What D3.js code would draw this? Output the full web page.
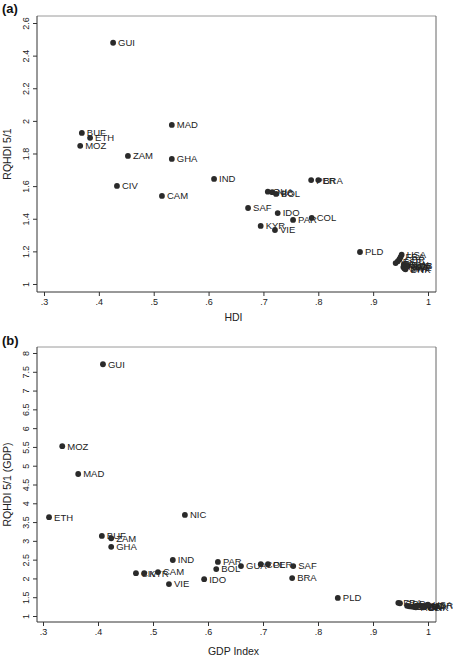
<!DOCTYPE html>
<html><head><meta charset="utf-8">
<script src="https://cdn.jsdelivr.net/npm/d3@7"></script>
<style>
html,body{margin:0;padding:0;background:#fff;}
svg{display:block;font-family:"Liberation Sans",Arial,Helvetica,sans-serif;}
</style></head>
<body>
<svg id="chart" width="453" height="657"></svg>
<script>
// Panel (a): HDI vs RQHDI 5/1
const labelsA = ["GUI","MAD","BUF","ETH","MOZ","ZAM","GHA","CIV","CAM","IND","PER","BRA","GUA","NIC","BOL","SAF","IDO","PAR","COL","KYR","VIE","PLD",
  "USA","FRA","GBR","ESP","ITA","CAN","NOR","SWE","JPN","AUS","SWI","NLD","DNK"];
const hdiA = [0.426,0.533,0.369,0.384,0.366,0.453,0.533,0.433,0.515,0.610,0.787,0.800,0.708,0.716,0.723,0.672,0.726,0.754,0.788,0.695,0.721,0.876,
  0.952,0.950,0.948,0.945,0.941,0.956,0.960,0.958,0.962,0.963,0.957,0.955,0.959];
const rqA = [2.479,1.975,1.926,1.896,1.847,1.785,1.767,1.601,1.540,1.644,1.637,1.637,1.566,1.563,1.552,1.466,1.435,1.393,1.405,1.356,1.331,1.196,
  1.180,1.165,1.152,1.140,1.128,1.120,1.112,1.100,1.108,1.113,1.095,1.104,1.090];

// Panel (b): GDP Index vs RQHDI 5/1 (GDP)
const labelsB = ["GUI","MOZ","MAD","ETH","NIC","BUF","ZAM","GHA","IND","CIV","KYR","CAM","VIE","IDO","PAR","BOL","GUA","COL","PER","SAF","BRA","PLD",
  "FRA","GBR","ITA","ESP","SWE","JPN","CAN","AUS","NLD","SWI","DNK","NOR","USA"];
const gdpB = [0.409,0.335,0.364,0.311,0.558,0.407,0.424,0.424,0.536,0.469,0.484,0.509,0.529,0.593,0.618,0.615,0.660,0.696,0.709,0.755,0.753,0.836,
  0.946,0.949,0.962,0.966,0.970,0.975,0.980,0.978,0.985,0.990,0.992,0.998,1.000];
const rqB = [7.70,5.52,4.78,3.63,3.69,3.13,3.07,2.84,2.49,2.14,2.14,2.17,1.85,1.98,2.44,2.25,2.33,2.38,2.38,2.33,2.01,1.48,
  1.35,1.34,1.27,1.26,1.25,1.24,1.27,1.23,1.28,1.26,1.23,1.29,1.30];

const xTicksA = [0.3,0.4,0.5,0.6,0.7,0.8,0.9,1];
const xTickLabelsA = [".3",".4",".5",".6",".7",".8",".9","1"];
const yTicksA = [1,1.2,1.4,1.6,1.8,2,2.2,2.4,2.6];
const yTickLabelsA = ["1","1.2","1.4","1.6","1.8","2","2.2","2.4","2.6"];
const xTicksB = [0.3,0.4,0.5,0.6,0.7,0.8,0.9,1];
const xTickLabelsB = [".3",".4",".5",".6",".7",".8",".9","1"];
const yTicksB = [1,1.5,2,2.5,3,3.5,4,4.5,5,5.5,6,6.5,7,7.5,8];
const yTickLabelsB = ["1","1.5","2","2.5","3","3.5","4","4.5","5","5.5","6","6.5","7","7.5","8"];

const svg = d3.select("#chart");
const dotColor = "#2a2a2a";

function panel(opts) {
  const {left, right, top, bottom, xDom, yDom, xs, ys, labs, xT, xTL, yT, yTL, xTitle, yTitle, tag, tagY, xTitleY} = opts;
  const x = d3.scaleLinear().domain(xDom).range([left, right]);
  const y = d3.scaleLinear().domain(yDom).range([bottom, top]);
  const g = svg.append("g");

  // frame: top and right
  g.append("line").attr("x1", left).attr("x2", right).attr("y1", top).attr("y2", top)
    .attr("stroke", "#9a9a9a").attr("stroke-width", 1);
  g.append("line").attr("x1", right).attr("x2", right).attr("y1", top).attr("y2", bottom)
    .attr("stroke", "#666").attr("stroke-width", 1);

  // x axis
  const xa = g.append("g").attr("transform", `translate(0,${bottom})`)
    .call(d3.axisBottom(x).tickValues(xT).tickFormat((d, i) => xTL[i]).tickSize(4).tickPadding(3));
  xa.select(".domain").remove();
  xa.selectAll(".tick line").attr("stroke", "#333");
  xa.selectAll(".tick text").attr("font-size", 9).attr("fill", "#222")
    .attr("font-family", "Liberation Sans, Arial, sans-serif");
  g.append("line").attr("x1", left).attr("x2", right).attr("y1", bottom).attr("y2", bottom)
    .attr("stroke", "#333").attr("stroke-width", 1);

  // y axis
  const ya = g.append("g").attr("transform", `translate(${left},0)`)
    .call(d3.axisLeft(y).tickValues(yT).tickFormat((d, i) => yTL[i]).tickSize(4));
  ya.select(".domain").remove();
  ya.selectAll(".tick line").attr("stroke", "#333");
  ya.selectAll(".tick text").attr("font-size", 9).attr("fill", "#222")
    .attr("font-family", "Liberation Sans, Arial, sans-serif")
    .attr("transform", "rotate(-90)").attr("x", 0).attr("y", -8).attr("dy", 0)
    .attr("text-anchor", "middle");
  g.append("line").attr("x1", left).attr("x2", left).attr("y1", top).attr("y2", bottom)
    .attr("stroke", "#333").attr("stroke-width", 1);

  // titles
  g.append("text").attr("x", (left + right) / 2 - 3).attr("y", xTitleY)
    .attr("text-anchor", "middle").attr("font-size", 10.5).attr("fill", "#222").text(xTitle);
  g.append("text").attr("transform", `translate(11,${(top + bottom) / 2}) rotate(-90)`)
    .attr("text-anchor", "middle").attr("font-size", 10.5).attr("fill", "#222").text(yTitle);
  g.append("text").attr("x", 2).attr("y", tagY).attr("font-size", 13).attr("font-weight", "bold")
    .attr("fill", "#111").text(tag);

  // points with labels
  const pts = xs.map((v, i) => ({x: v, y: ys[i], lab: labs[i]}));
  const pg = g.selectAll("g.pt").data(pts).join("g").attr("class", "pt");
  pg.append("circle").attr("cx", d => x(d.x)).attr("cy", d => y(d.y)).attr("r", 2.9).attr("fill", dotColor);
  pg.append("text").attr("x", d => x(d.x) + 5).attr("y", d => y(d.y)).attr("dy", "0.36em")
    .attr("font-size", 9.5).attr("fill", "#222").text(d => d.lab);
}

panel({left: 37, right: 436, top: 16, bottom: 292,
  xDom: [0.3 - 7 / 549, 1 + 8 / 549], yDom: [1 - 8 / 163, 2.6 + 7 / 163],
  xs: hdiA, ys: rqA, labs: labelsA, xT: xTicksA, xTL: xTickLabelsA, yT: yTicksA, yTL: yTickLabelsA,
  xTitle: "HDI", yTitle: "RQHDI 5/1", tag: "(a)", tagY: 13, xTitleY: 321});

panel({left: 37, right: 436, top: 347, bottom: 622,
  xDom: [0.3 - 6 / 550, 1 + 8 / 550], yDom: [1 - 6 / 37.6, 8 + 6 / 37.6],
  xs: gdpB, ys: rqB, labs: labelsB, xT: xTicksB, xTL: xTickLabelsB, yT: yTicksB, yTL: yTickLabelsB,
  xTitle: "GDP Index", yTitle: "RQHDI 5/1 (GDP)", tag: "(b)", tagY: 345, xTitleY: 655});
</script>
</body></html>
